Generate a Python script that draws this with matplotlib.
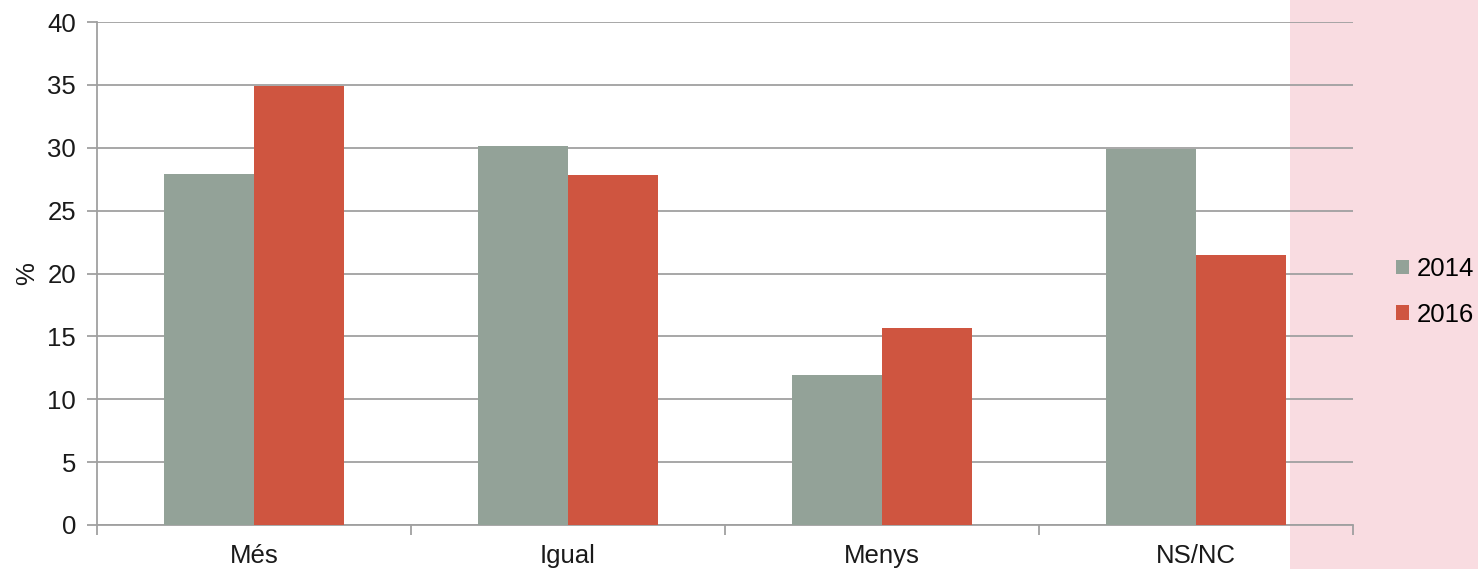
import matplotlib
matplotlib.use("Agg")
import matplotlib.pyplot as plt
import numpy as np
from matplotlib.patches import Rectangle

categories = ["Més", "Igual", "Menys", "NS/NC"]
series_names = ["2014", "2016"]
values_2014 = [27.9, 30.1, 11.9, 29.9]
values_2016 = [34.9, 27.8, 15.7, 21.5]
y_ticks = [0, 5, 10, 15, 20, 25, 30, 35, 40]

colors = ["#93A298", "#CF5540"]

plt.rcParams['font.family'] = ['Liberation Sans', 'DejaVu Sans']
FS = 18.5

fig = plt.figure(figsize=(14.78, 5.69), dpi=100)
fig.patch.set_facecolor("white")
# faint pink watermark area on the right
fig.patches.append(Rectangle((1290/1478, 0), 1 - 1290/1478, 1, transform=fig.transFigure,
                             facecolor="#F9DCE1", edgecolor="none", zorder=-10))

ax = fig.add_axes([97/1478, 1 - 525/569, (1353 - 97)/1478, (525 - 22)/569])
ax.set_facecolor("none")

x = np.arange(len(categories))
w = 1 / 3.5
ax.bar(x - w/2, values_2014, w, color=colors[0], label=series_names[0], zorder=3)
ax.bar(x + w/2, values_2016, w, color=colors[1], label=series_names[1], zorder=3)

ax.set_xlim(-0.5, len(categories) - 0.5)
ax.set_ylim(0, 40)
ax.set_yticks(y_ticks)
ax.set_yticklabels([str(t) for t in y_ticks], fontsize=FS, color="#1a1a1a")
ax.yaxis.grid(True, color="#A0A0A0", linewidth=1.3, zorder=0)
ax.set_axisbelow(True)

ax.set_xticks(x)
ax.set_xticklabels(categories, fontsize=FS, color="#1a1a1a")
ax.tick_params(axis="x", length=0, pad=14)
ax.set_xticks(np.arange(-0.5, len(categories)), minor=True)
ax.tick_params(axis="x", which="minor", length=7, color="#A0A0A0", width=1.3)
ax.tick_params(axis="y", length=7, color="#A0A0A0", width=1.3, pad=8)

for s in ["top", "right"]:
    ax.spines[s].set_visible(False)
for s in ["left", "bottom"]:
    ax.spines[s].set_color("#A0A0A0")
    ax.spines[s].set_linewidth(1.3)

ax.set_ylabel("%", fontsize=FS, color="#1a1a1a", labelpad=6)

leg = fig.legend(*ax.get_legend_handles_labels(), loc="upper left",
                 bbox_to_anchor=(1396/1478, 1 - 257/569), frameon=False,
                 fontsize=FS, handlelength=0.5, handleheight=0.5, handletextpad=0.3,
                 labelspacing=0.85, borderpad=0, borderaxespad=0)

fig.savefig("out.png", dpi=100)
